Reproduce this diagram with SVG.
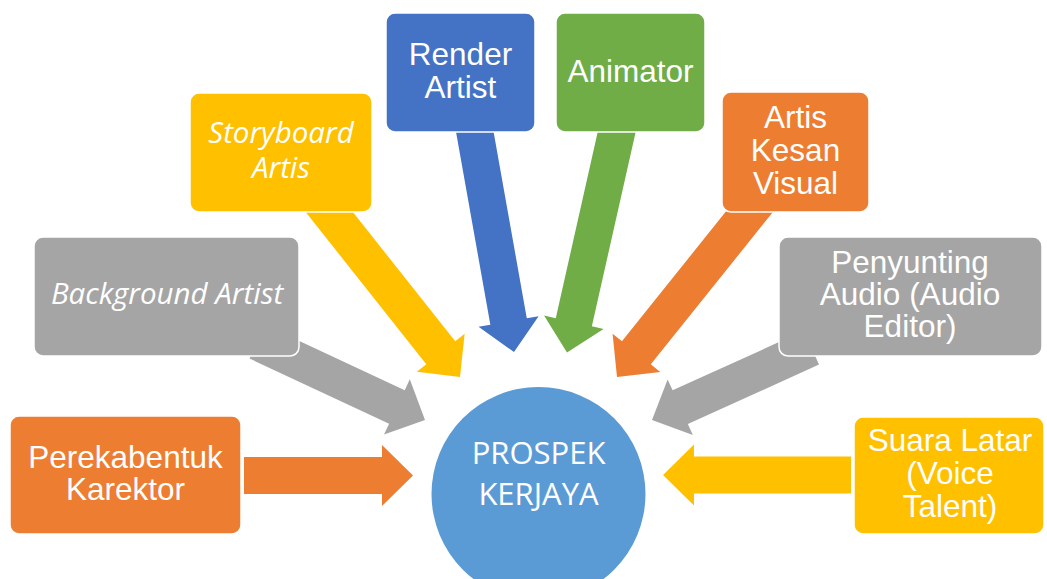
<svg xmlns="http://www.w3.org/2000/svg" width="1047" height="579" viewBox="0 0 1047 579">
<style>
.box{stroke:#fff;stroke-width:1.5}
.t{font-family:"Liberation Sans",Arial,sans-serif;font-size:31.5px;fill:#fff;text-anchor:middle}
.ti{font-family:"Open Sans","Noto Sans",sans-serif;font-style:italic;font-size:29.5px;fill:#fff;text-anchor:middle}
.tc{font-family:"Open Sans","Noto Sans",sans-serif;font-size:31px;fill:#fff;text-anchor:middle}
.orange{fill:#ED7D31}.gray{fill:#A5A5A5}.yellow{fill:#FFC000}.blue{fill:#4472C4}.green{fill:#70AD47}
</style>
<rect width="1047" height="579" fill="#fff"/>
<g id="connectors">
<polygon class="orange" transform="translate(413,475.5)" points="-169,-18.5 -31,-18.5 -31,-30.5 0,0 -31,30.5 -31,18.5 -169,18.5"/>
<polygon class="gray" transform="translate(425,420) rotate(25)" points="-185,-18.5 -31,-18.5 -31,-30.5 0,0 -31,30.5 -31,18.5 -185,18.5"/>
<polygon class="yellow" transform="translate(460,377) rotate(51.6)" points="-228,-18.5 -31,-18.5 -31,-30.5 0,0 -31,30.5 -31,18.5 -228,18.5"/>
<polygon class="blue" transform="translate(514,352) rotate(79.9)" points="-230,-18.5 -31,-18.5 -31,-30.5 0,0 -31,30.5 -31,18.5 -230,18.5"/>
<polygon class="green" transform="translate(567,352.5) rotate(102.7)" points="-232,-18.5 -31,-18.5 -31,-30.5 0,0 -31,30.5 -31,18.5 -232,18.5"/>
<polygon class="orange" transform="translate(617,377) rotate(128.7)" points="-228,-18.5 -31,-18.5 -31,-30.5 0,0 -31,30.5 -31,18.5 -228,18.5"/>
<polygon class="gray" transform="translate(652,420) rotate(155.6)" points="-175,-18.5 -31,-18.5 -31,-30.5 0,0 -31,30.5 -31,18.5 -175,18.5"/>
<polygon class="yellow" transform="translate(663,475) rotate(180)" points="-188,-18.5 -31,-18.5 -31,-30.5 0,0 -31,30.5 -31,18.5 -188,18.5"/>
</g>
<g id="center">
<circle cx="538.5" cy="494" r="107" fill="#5B9BD5"/>
<text class="tc" x="538.5" y="464">PROSPEK</text>
<text class="tc" x="538.5" y="505">KERJAYA</text>
</g>
<g id="perekabentuk">
<rect class="box orange" x="10" y="416" width="231" height="118" rx="9"/>
<text class="t" x="125.5" y="468">Perekabentuk</text>
<text class="t" x="125.5" y="500">Karektor</text>
</g>
<g id="background">
<rect class="box gray" x="34" y="237" width="265" height="119" rx="9"/>
<text class="ti" x="167" y="304">Background Artist</text>
</g>
<g id="storyboard">
<rect class="box yellow" x="190" y="93" width="182" height="119" rx="9"/>
<text class="ti" x="281" y="143">Storyboard</text>
<text class="ti" x="281" y="178">Artis</text>
</g>
<g id="render">
<rect class="box blue" x="386" y="13" width="149" height="119" rx="9"/>
<text class="t" x="460.5" y="65">Render</text>
<text class="t" x="460.5" y="98">Artist</text>
</g>
<g id="animator">
<rect class="box green" x="556" y="13" width="149" height="119" rx="9"/>
<text class="t" x="630.5" y="82">Animator</text>
</g>
<g id="vfx">
<rect class="box orange" x="722" y="92" width="147" height="120" rx="9"/>
<text class="t" x="795.5" y="128">Artis</text>
<text class="t" x="795.5" y="161">Kesan</text>
<text class="t" x="795.5" y="194">Visual</text>
</g>
<g id="audio">
<rect class="box gray" x="779" y="237" width="263" height="119" rx="9"/>
<text class="t" x="910" y="273">Penyunting</text>
<text class="t" x="910" y="305">Audio (Audio</text>
<text class="t" x="910" y="337">Editor)</text>
</g>
<g id="voice">
<rect class="box yellow" x="854" y="417" width="190" height="117" rx="9"/>
<text class="t" x="950" y="451">Suara Latar</text>
<text class="t" x="950" y="484">(Voice</text>
<text class="t" x="950" y="517">Talent)</text>
</g>
</svg>
